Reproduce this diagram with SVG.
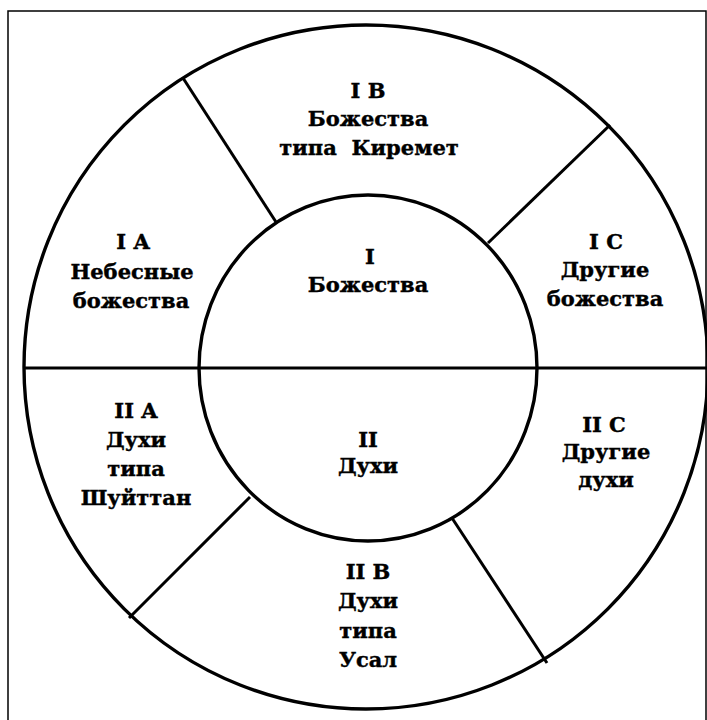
<svg xmlns="http://www.w3.org/2000/svg" width="707" height="720" viewBox="0 0 707 720">
<style>
.t{font-family:"DejaVu Serif","Liberation Serif",serif;font-weight:bold;font-size:21px;fill:#000;stroke:#000;stroke-width:0.4;text-anchor:middle}
.c{fill:none;stroke:#000;stroke-width:3.4}
.d{stroke:#000;stroke-width:3;fill:none}
</style>
<rect x="0" y="0" width="707" height="720" fill="#fff"/>
<rect x="8" y="11" width="698" height="730" fill="none" stroke="#000" stroke-width="1.5"/>
<g id="rings">
<circle class="c" cx="366" cy="367" r="342"/>
<ellipse class="c" cx="368" cy="368" rx="169" ry="173"/>
</g>
<g id="connectors">
<line class="d" x1="24" y1="368" x2="707" y2="368"/>
<line class="d" x1="183" y1="78" x2="276" y2="222"/>
<line class="d" x1="610" y1="125" x2="488" y2="243"/>
<line class="d" x1="250" y1="497" x2="129" y2="618"/>
<line class="d" x1="452" y1="518" x2="547" y2="663"/>
</g>
<g id="IB"><text class="t" x="368" y="98">I B</text><text class="t" x="368" y="126">Божества</text><text class="t" x="369" y="155" xml:space="preserve">типа  Киремет</text></g>
<g id="IA"><text class="t" x="133" y="249">I A</text><text class="t" x="132" y="279">Небесные</text><text class="t" x="131" y="308">божества</text></g>
<g id="I"><text class="t" x="370" y="264">I</text><text class="t" x="368" y="292">Божества</text></g>
<g id="IC"><text class="t" x="606" y="249">I C</text><text class="t" x="605" y="277">Другие</text><text class="t" x="605" y="306">божества</text></g>
<g id="IIA"><text class="t" x="136" y="418">II A</text><text class="t" x="136" y="447">Духи</text><text class="t" x="136" y="476">типа</text><text class="t" x="136" y="505">Шуйттан</text></g>
<g id="II"><text class="t" x="368" y="447">II</text><text class="t" x="368" y="473">Духи</text></g>
<g id="IIC"><text class="t" x="604" y="432">II C</text><text class="t" x="606" y="459">Другие</text><text class="t" x="606" y="487">духи</text></g>
<g id="IIB"><text class="t" x="368" y="579">II B</text><text class="t" x="368" y="608">Духи</text><text class="t" x="368" y="638">типа</text><text class="t" x="368" y="667">Усал</text></g>
</svg>
